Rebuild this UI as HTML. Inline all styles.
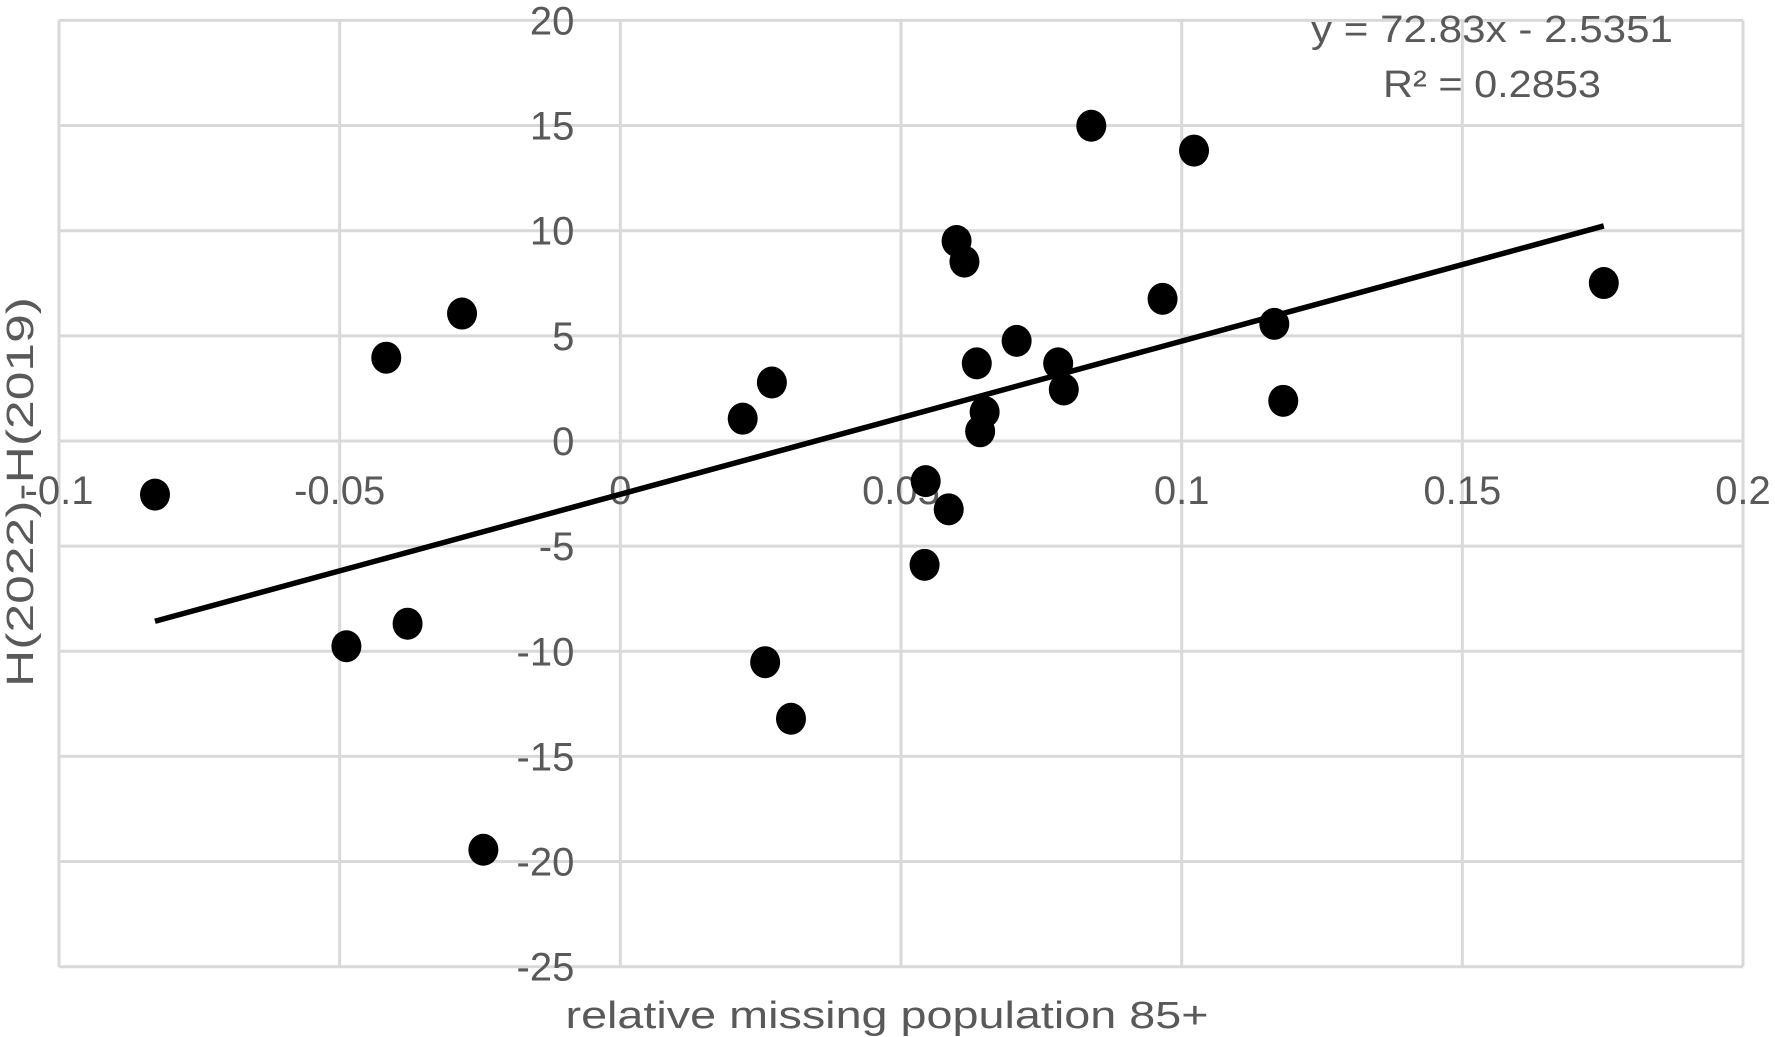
<!DOCTYPE html>
<html><head><meta charset="utf-8"><style>
html,body{margin:0;padding:0;background:#fff;}
svg{display:block;font-family:"Liberation Sans",sans-serif;}
</style></head><body>
<svg id="chart" width="1775" height="1037" viewBox="0 0 1775 1037" xmlns="http://www.w3.org/2000/svg">
<g id="grid"></g>
<g id="ticks"></g>
<g id="trend"></g>
<g id="points"></g>
<text transform="translate(33,492) rotate(-90)" text-anchor="middle" font-size="38" fill="#595959" textLength="390" lengthAdjust="spacingAndGlyphs">H(2022)-H(2019)</text>
<text x="887" y="1028" text-anchor="middle" font-size="38" fill="#595959" textLength="643" lengthAdjust="spacingAndGlyphs">relative missing population 85+</text>
<text x="1492" y="42" text-anchor="middle" font-size="38" fill="#595959" textLength="362" lengthAdjust="spacingAndGlyphs">y = 72.83x - 2.5351</text>
<text x="1492" y="97" text-anchor="middle" font-size="38" fill="#595959" textLength="218" lengthAdjust="spacingAndGlyphs">R² = 0.2853</text>
</svg>
<script>
const xTicks = [-0.1, -0.05, 0, 0.05, 0.1, 0.15, 0.2];
const xTickLabels = ["-0.1", "-0.05", "0", "0.05", "0.1", "0.15", "0.2"];
const yTicks = [20, 15, 10, 5, 0, -5, -10, -15, -20, -25];
const yTickLabels = ["20", "15", "10", "5", "0", "-5", "-10", "-15", "-20", "-25"];
const xValues = [-0.0829,-0.0417,-0.0282,-0.0488,-0.0379,-0.0244,0.0218,0.0270,0.0258,0.0304,0.0544,0.0585,0.0542,0.0599,0.0613,0.0839,0.1022,0.0966,0.0706,0.0635,0.0649,0.0641,0.0780,0.0790,0.1165,0.1181,0.1752];
const yValues = [-2.55,3.96,6.06,-9.76,-8.69,-19.44,1.06,2.78,-10.52,-13.21,-1.91,-3.25,-5.89,9.51,8.53,14.99,13.81,6.76,4.76,3.69,1.38,0.46,3.69,2.45,5.57,1.91,7.51];
const trendSlope = 72.83;
const trendIntercept = -2.5351;

const NS = "http://www.w3.org/2000/svg";
const X0 = 59, X1 = 1743, Y0 = 20.4, Y1 = 966.7;
const xMin = -0.1, xMax = 0.2, yMin = -25, yMax = 20;
function sx(v){ return X0 + (v - xMin) / (xMax - xMin) * (X1 - X0); }
function sy(v){ return Y1 - (v - yMin) / (yMax - yMin) * (Y1 - Y0); }
function mk(tag, attrs, parent){
  const e = document.createElementNS(NS, tag);
  for (const k in attrs) e.setAttribute(k, attrs[k]);
  parent.appendChild(e);
  return e;
}
const grid = document.getElementById('grid');
const ticks = document.getElementById('ticks');
xTicks.forEach((v, i) => {
  const l = mk('line', {x1: sx(v), x2: sx(v), y1: Y0, y2: Y1, stroke: '#d9d9d9', 'stroke-width': 3}, grid);
  
  
  const t = mk('text', {x: sx(v), y: sy(0) + 63, 'text-anchor': 'middle', 'font-size': 40, fill: '#595959'}, ticks);
  t.textContent = xTickLabels[i];
  
  
});
yTicks.forEach((v, i) => {
  const l = mk('line', {x1: X0, x2: X1, y1: sy(v), y2: sy(v), stroke: '#d9d9d9', 'stroke-width': 3}, grid);
  
  
  const t = mk('text', {x: sx(0) - 46, y: sy(v) + 14, 'text-anchor': 'end', 'font-size': 40, fill: '#595959'}, ticks);
  t.textContent = yTickLabels[i];
  
  
});
const xs = Math.min(...xValues), xe = Math.max(...xValues);
const tl = mk('line', {x1: sx(xs), y1: sy(trendSlope*xs+trendIntercept), x2: sx(xe), y2: sy(trendSlope*xe+trendIntercept), stroke: '#000', 'stroke-width': 5.5}, document.getElementById('trend'));


const pts = document.getElementById('points');
xValues.forEach((x, i) => {
  const c = mk('ellipse', {cx: sx(x), cy: sy(yValues[i]), rx: 15, ry: 16, fill: '#000'}, pts);
  
  
});
</script>
</body></html>
